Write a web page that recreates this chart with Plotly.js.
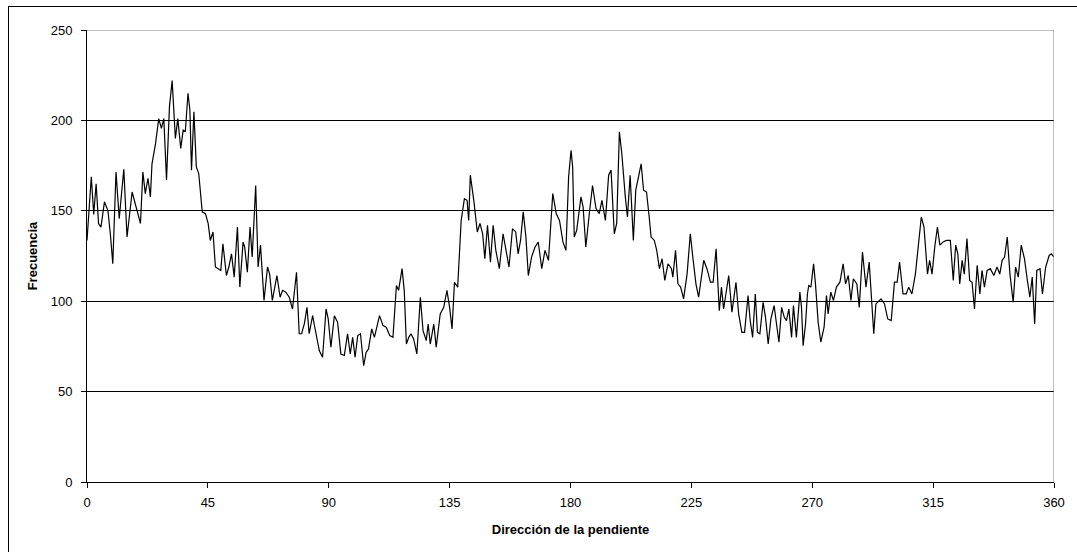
<!DOCTYPE html>
<html>
<head>
<meta charset="utf-8">
<script src="https://cdn.plot.ly/plotly-3.0.1.min.js"></script>
<style>
  html, body { margin: 0; padding: 0; background: #fff; }
  #wrap { position: relative; width: 1077px; height: 552px; overflow: hidden; }
  #chart { position: absolute; left: 0; top: 0; width: 1077px; height: 552px; }
  #frame { position: absolute; left: 8px; top: 6px; width: 1080px; height: 560px; border: 1px solid #000; pointer-events: none; box-sizing: border-box; }
</style>
</head>
<body>
<div id="wrap">
  <div id="chart"></div>
  <div id="frame"></div>
</div>
<script>
// Slope direction (degrees) and frequency
const direccion = [
  0,1.6,2.5,3.4,4.3,5.2,6.5,7.8,8.7,9.6,10.8,12,13.7,14.9,16.8,18,19.9,20.8,21.7,22.7,23.6,24.2,25.5,26.7,27.7,28.6,29.6,30.7,31.7,32.9,33.8,
  34.9,35.8,36.6,37.6,38.3,38.9,39.8,40.7,41.6,42.4,42.9,44.1,45.1,45.9,46.9,47.8,48.8,49.8,50.6,51.9,52.8,53.8,54.8,56,56.9,58.1,58.7,59.7,60.7,61.5,62.8,63.7,64.6,65.9,67.2,68,69,
  70.7,71.9,72.8,74.0,75.3,76.5,77.4,78.0,79.0,79.9,80.9,81.9,82.7,84.0,84.8,86.5,87.7,89.0,89.8,90.8,92.1,93.3,94.5,95.8,97.0,98.0,98.9,99.8,100.8,101.8,103.0,103.9,104.8,106.0,107.0,
  108.9,110.2,111.4,112.7,113.9,115.2,116.0,117.3,118.1,118.9,119.8,120.6,121.6,122.8,124.1,125.1,126.3,127.0,127.8,129.1,130.0,131.5,132.8,134.0,135.0,135.9,136.8,138.0,139.3,140.5,141.5,142.1,142.7,
  144.0,145.3,146.3,147.3,148.1,149.1,150.2,151.2,152.2,153.5,154.9,155.9,157.1,158.4,159.6,160.5,161.4,162.4,163.4,164.3,165.5,166.8,168.0,169.3,170.5,171.8,172.7,173.4,174.7,175.9,177.2,
  178.3,179.3,180.2,180.8,181.4,182.3,183.9,184.7,185.7,187.0,188.2,189.5,190.7,191.7,193.0,194.2,195.1,196.3,197.2,198.2,199.1,200.4,201.2,202.2,203.4,204.3,205.3,206.3,207.2,208.3,209.3,210.0,211.2,212.1,213.1,214.1,
  215.1,216.3,217.6,218.1,219.1,220.0,221.0,222.1,223.4,224.6,225.6,226.7,227.7,228.7,229.6,230.8,232.1,233.1,234.2,235.4,236.2,237.0,238.9,240.1,241.6,242.6,243.8,244.8,246.1,246.9,247.8,248.8,
  249.6,250.5,251.7,252.6,253.6,254.6,255.8,256.7,257.6,258.6,259.6,260.4,261.3,262.3,263.0,264.1,265.4,266.0,266.6,267.5,268.2,268.7,269.5,270.5,271.2,272.2,273.2,274.4,275.3,275.9,276.9,277.9,279.0,280.3,281.5,282.4,283.4,284.4,285.3,
  286.6,287.5,288.7,290.0,291.2,292.1,292.9,293.7,295.6,296.9,298.1,299.4,300.6,301.6,302.5,303.8,305.0,305.9,307.1,308.4,309.4,310.6,311.6,312.9,313.7,314.6,315.6,316.6,317.5,318.7,320.0,
  321.4,322.5,323.4,324.2,324.9,325.8,326.6,327.6,328.6,329.5,330.4,331.4,332.4,333.2,334.1,335.1,336.3,337.6,338.8,339.8,340.7,341.6,342.6,343.6,344.8,345.7,346.7,347.8,349.0,350.0,351.0,351.9,352.8,353.6,354.8,355.7,356.9,358.2,359.0,360
];
const frecuencia = [
  133.6,168.8,148,165,143,141,155,150,137,120.7,171.5,145.7,173,135.5,160.4,154,143,171.5,159.5,168,157.7,176,187,201,195.6,201,167,207.6,222,190,201,
  184.5,194.6,193.7,215,205.7,172.5,204.8,174.3,170.6,155.8,149.4,148.4,143,133.6,138.3,118.9,118,117,131.8,114.2,118.9,126.2,113.3,141,107.8,132.7,130,116,141,124.4,164,118.9,131,100.4,118.9,115,100.4,
  114.2,102.2,106,105,102.2,95.7,107.8,116,82,82,87.4,96.6,82,92,85.6,72.6,69,95.7,90.2,74.5,92,88.3,70.8,70,82,70.8,80,69,81,82,64.3,71.7,73.6,84.7,80,
  92,86.5,85.6,81,80,108.7,106,118,106,76.3,80,82,79.1,70.8,102.2,83.7,78.2,87.4,76.3,87.4,74.5,93,96.6,106,96.6,84.7,110.5,107.8,144.7,156.7,155.8,144.7,169.7,
  155.8,138.3,143,137.3,123.5,142,121.6,142,128.1,118,137.3,129,118.9,140.1,138.3,126.2,133.6,149.4,135.5,114.2,124.4,130,132.7,118,128.1,122.6,146.6,159.5,148.4,144.7,132.7,
  128.1,168.8,183.5,174.3,135.5,139.2,157.7,152,130,148.4,164,151.2,148.4,155.8,144.7,169.7,172.5,137.3,143,193.7,181.7,157.7,146.6,169.7,133.6,161.4,167.8,176,161.4,160.4,146.6,135.5,133.6,128.1,118,123.5,
  111.5,120.7,118,113.3,128.1,109.6,107.8,101.3,115,137.3,123.5,109.6,102.2,114.2,122.6,118,110.5,110.5,129,94.8,107.8,95.7,114.2,93.9,110.5,93,82.8,82.8,103.1,89.3,80,104,
  82.8,82,99.4,91.1,76.3,90.2,97.6,87.4,77.3,96.6,91.1,89.3,95.7,80,97.6,80,105,96.6,75.4,87.4,104,108.7,107.8,120.7,109.6,88.3,77.3,85.6,103.1,93,105,100.4,107.8,110.5,120.7,109.6,114.2,100.4,112.4,
  109.6,96.6,127.2,107.8,121.6,96.6,82,98.5,101.3,98.5,90.2,89.3,110.5,110.5,121.6,104,104,107.8,104,115,128.1,146.6,141,115,122.6,115,130,141,131,132.7,133.6,
  133.6,111.5,131,126.2,109.6,122.6,115,134.6,111.5,110.5,95.7,119.8,104,117,107.8,117,118,114.2,118.9,115,122.6,124.4,135.5,115,99.4,118.9,113.3,131,123.5,112.4,102.2,113.3,87.4,117,118,104,118.9,125.3,126.2,124.4
];
const xTicks = [0, 45, 90, 135, 180, 225, 270, 315, 360];
const yTicks = [0, 50, 100, 150, 200, 250];
const xTitle = 'Dirección de la pendiente';
const yTitle = 'Frecuencia';

const font = 'Liberation Sans, Arial, sans-serif';

const trace = {
  x: direccion,
  y: frecuencia,
  type: 'scatter',
  mode: 'lines',
  line: { color: '#000000', width: 1.2 },
  hoverinfo: 'x+y'
};

const layout = {
  width: 1077,
  height: 552,
  margin: { l: 87, r: 23, t: 30, b: 70 },
  paper_bgcolor: '#ffffff',
  plot_bgcolor: '#ffffff',
  showlegend: false,
  font: { family: font, color: '#000000', size: 13 },
  xaxis: {
    range: [0, 360],
    tickvals: xTicks,
    ticktext: xTicks.map(String),
    ticks: 'outside',
    ticklen: 5,
    tickcolor: '#000000',
    tickwidth: 1,
    showline: true,
    linecolor: '#000000',
    linewidth: 1,
    showgrid: false,
    zeroline: false,
    ticklabelstandoff: 3,
    tickfont: { family: font, size: 13, color: '#000000' },
    title: { text: '<b>' + xTitle + '</b>', font: { family: font, size: 13, color: '#000000' }, standoff: 16 }
  },
  yaxis: {
    range: [0, 250],
    tickvals: yTicks,
    ticktext: yTicks.map(String),
    ticks: 'outside',
    ticklen: 5,
    tickcolor: '#000000',
    tickwidth: 1,
    showline: true,
    linecolor: '#000000',
    linewidth: 1,
    showgrid: true,
    gridcolor: '#000000',
    gridwidth: 1,
    zeroline: false,
    ticklabelstandoff: 6,
    tickfont: { family: font, size: 13, color: '#000000' },
    title: { text: '<b>' + yTitle + '</b>', font: { family: font, size: 13, color: '#000000' }, standoff: 10 }
  },
  shapes: [
    { type: 'line', xref: 'x', yref: 'y', x0: 0, x1: 360, y0: 250, y1: 250, line: { color: '#808080', width: 1 }, layer: 'above' },
    { type: 'line', xref: 'x', yref: 'y', x0: 360, x1: 360, y0: 0, y1: 250, line: { color: '#808080', width: 1 }, layer: 'above' }
  ]
};

Plotly.newPlot('chart', [trace], layout, { displayModeBar: false, staticPlot: true });
</script>
</body>
</html>
